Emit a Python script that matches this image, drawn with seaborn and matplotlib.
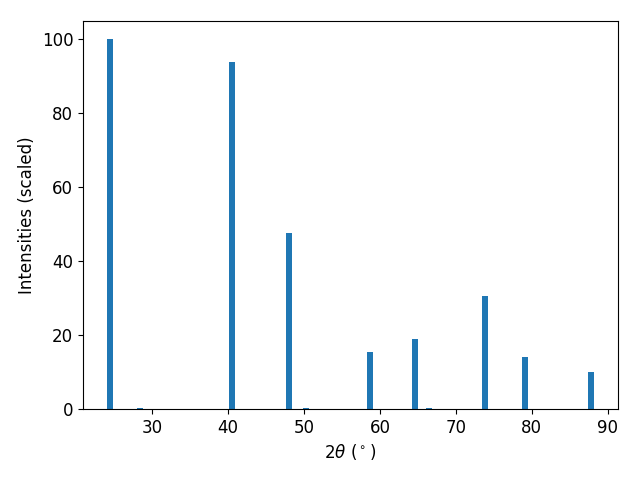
import numpy as np
import pandas as pd
import matplotlib
matplotlib.use("Agg")
import matplotlib.pyplot as plt
import seaborn as sns

two_theta = [24.47, 28.42, 40.53, 48.03, 50.2, 58.68, 64.6, 66.45, 73.8, 79.08, 87.76]
intensity = [100.0, 0.3, 93.8, 47.7, 0.3, 15.5, 19.0, 0.3, 30.6, 14.1, 10.05]

df = pd.DataFrame({"two_theta": two_theta, "intensity": intensity})

bar_width_deg = 0.8
min_gap = np.min(np.diff(np.sort(np.unique(two_theta))))

fig, ax = plt.subplots(figsize=(6.4, 4.8), dpi=100)
sns.barplot(data=df, x="two_theta", y="intensity", native_scale=True, orient="x",
            width=bar_width_deg / min_gap, color="#1f77b4", saturation=1,
            edgecolor="none", linewidth=0, errorbar=None, ax=ax)
ax.margins(x=0.05, y=0.05)
ax.set_ylim(0, None)
ax.set_xlabel(r"$2\theta$ ($^\circ$)", fontsize=12)
ax.set_ylabel("Intensities (scaled)", fontsize=12)
ax.tick_params(labelsize=12)
ax.set_xticks([30, 40, 50, 60, 70, 80, 90])
fig.subplots_adjust(left=83/640, right=618/640, top=1-21/480, bottom=1-409/480)
fig.savefig("out.png", dpi=100)
